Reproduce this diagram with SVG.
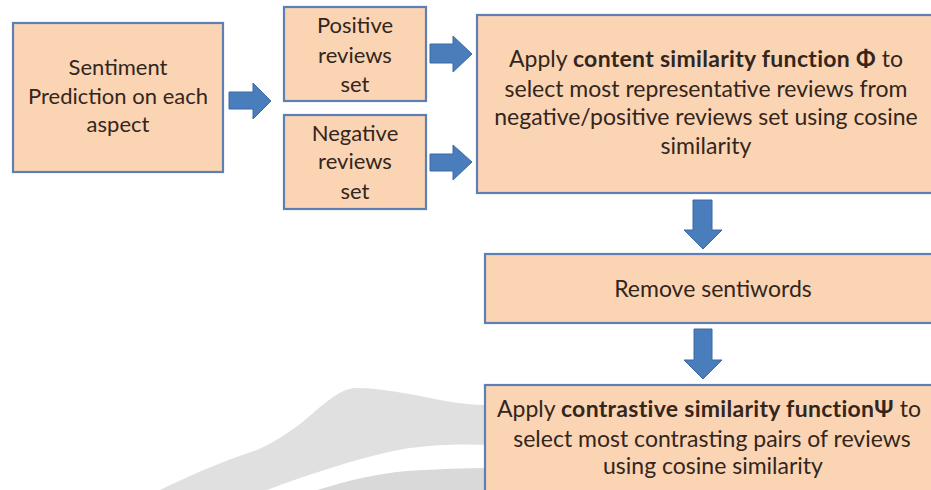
<svg xmlns="http://www.w3.org/2000/svg" width="931" height="490" viewBox="0 0 931 490">
<style>
.box{fill:#fbd4b4;stroke:#5d7fb3;stroke-width:2.2}
.t{font-family:Lato,"Liberation Sans",sans-serif;font-size:22px;fill:#33261c;text-anchor:middle}
.r{font-size:23px}
.b{font-weight:bold;letter-spacing:0.3px}
.arr{fill:#4a7dbb;stroke:#3b6aa3;stroke-width:1}
.wm1{fill:#e0e0e0}
.wm2{fill:#d9d9d9}
</style>
<rect width="931" height="490" fill="#ffffff"/>
<g id="watermark">
<path class="wm1" d="M160,490 C185,478 220,462 257,450 C280,440 300,425 320,407 C335,395 345,388 357,388 C380,388 410,394 440,400 C460,404 475,405 490,405 L490,445 C465,444 440,444 410,448 C380,452 320,470 267,490 Z"/>
<path class="wm2" d="M317,490 C350,480 380,473 407,471 C440,469 465,468 490,468 L490,490 Z"/>
</g>
<g id="n1"><rect class="box" x="13" y="23" width="210" height="149"/>
<text class="t" x="118" y="75">Sentiment</text><text class="t" x="118" y="104">Prediction on each</text><text class="t" x="118" y="132">aspect</text></g>
<g id="n2"><rect class="box" x="284" y="7" width="142" height="94"/>
<text class="t" x="355" y="33">Positive</text><text class="t" x="355" y="63">reviews</text><text class="t" x="355" y="92">set</text></g>
<g id="n3"><rect class="box" x="284" y="115" width="142" height="94"/>
<text class="t" x="355" y="141">Negative</text><text class="t" x="355" y="169">reviews</text><text class="t" x="355" y="199">set</text></g>
<g id="n4"><rect class="box" x="477" y="15" width="460" height="178"/>
<text class="t r" x="706" y="67">Apply <tspan class="b">content similarity function Φ</tspan> to</text>
<text class="t r" x="706" y="97">select most representative reviews from</text>
<text class="t r" x="706" y="125">negative/positive reviews set using cosine</text>
<text class="t r" x="706" y="154">similarity</text></g>
<g id="n5"><rect class="box" x="485" y="254" width="452" height="69"/>
<text class="t r" x="713" y="297">Remove sentiwords</text></g>
<g id="n6"><rect class="box" x="485" y="385" width="452" height="120"/>
<text class="t r" x="709" y="417">Apply <tspan class="b">contrastive similarity functionΨ</tspan> to</text>
<text class="t r" x="712" y="447">select most contrasting pairs of reviews</text>
<text class="t r" x="713" y="474">using cosine similarity</text></g>
<g id="connectors">
<polygon class="arr" points="229,92 253,92 253,83 271,101 253,119 253,109 229,109"/>
<polygon class="arr" points="430,44 453,44 453,36 472,54 453,72 453,63 430,63"/>
<polygon class="arr" points="430,154 453,154 453,145 472,162 453,180 453,171 430,171"/>
<polygon class="arr" points="693,200 712,200 712,230 722,230 703,249 684,230 693,230"/>
<polygon class="arr" points="694,329 712,329 712,360 722,360 703,379 684,360 694,360"/>
</g>
</svg>
